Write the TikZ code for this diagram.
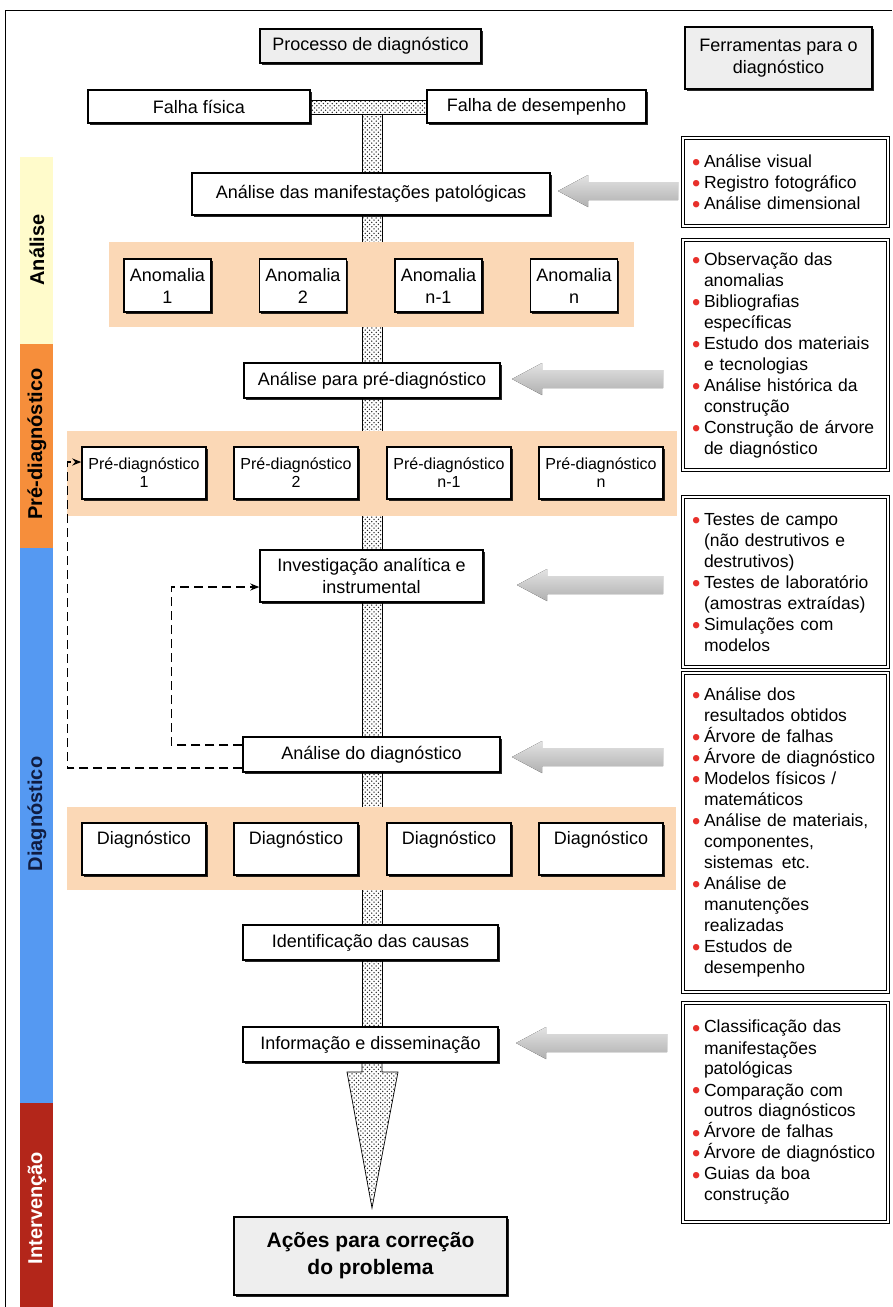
\documentclass[tikz,border=0pt]{standalone}
\usepackage{fontspec}
\setmainfont{Liberation Sans}
\usetikzlibrary{patterns,shadows,calc,arrows.meta}
\definecolor{bandc}{HTML}{FBD8B6}
\definecolor{yel}{HTML}{FFFBCB}
\definecolor{ora}{HTML}{F68E3B}
\definecolor{blu}{HTML}{5599F2}
\definecolor{redb}{HTML}{B3261A}
\definecolor{bulred}{HTML}{E8302A}
\definecolor{navy}{HTML}{101C40}
\pgfdeclarepatternformonly{sdots}{\pgfpoint{-1pt}{-1pt}}{\pgfpoint{5pt}{5pt}}{\pgfpoint{4.4pt}{4.4pt}}{%
  \pgfpathcircle{\pgfpoint{0pt}{0pt}}{0.75pt}%
  \pgfpathcircle{\pgfpoint{2.2pt}{2.2pt}}{0.75pt}%
  \pgfusepath{fill}}
\newcommand\bul{\makebox[12pt][l]{\smash{\textcolor{bulred}{\raisebox{-3pt}{\scalebox{1.35}{\textbullet}}}}}}
\newcommand\ind{\hspace*{12pt}}
\newcommand\garrow[3]{\fill[top color=gray!22,bottom color=gray!62] (#1,#2) -- ++(30,-16) -- ++(0,7) -- (#3,#2-9) -- (#3,#2+9) -- (#1+30,#2+9) -- ++(0,7) -- cycle;}
\begin{document}
\begin{tikzpicture}[x=1pt,y=-1pt,
 pbox/.style={draw=black, line width=1.4pt, fill=white, inner sep=0pt, align=center,
   font=\fontsize{18}{22}\selectfont,
   drop shadow={shadow xshift=1.5pt, shadow yshift=-1.5pt, fill=black, opacity=.85}},
 gbox/.style={pbox, fill=gray!13},
 prebox/.style={pbox, font=\fontsize{16}{18}\selectfont, minimum width=124pt, minimum height=52pt},
 anbox/.style={pbox, minimum width=87pt, minimum height=53pt},
 tbox/.style={draw=black, double=white, double distance=2pt, line width=1pt, fill=white,
   text width=187pt, inner xsep=9pt, inner ysep=0pt, align=left,
   font=\fontsize{17.5}{21}\selectfont},
 bar/.style={draw=black, line width=.7pt, preaction={fill=white}, pattern=sdots, pattern color=black!85},
 dline/.style={dash pattern=on 9pt off 5pt, line width=1.6pt, -{Stealth[length=9pt,width=7pt]}},
 side/.style={rotate=90, font=\bfseries\fontsize{20}{20}\selectfont},
]
\useasboundingbox (0,0) rectangle (892,1307);
% frame
\draw[line width=1pt] (5,1307) -- (5,10) -- (892,10);
% sidebar
\fill[yel] (20,157) rectangle (53,344);
\fill[ora] (20,344) rectangle (53,548);
\fill[blu] (20,548) rectangle (53,1103);
\fill[redb] (20,1103) rectangle (53,1307);
\node[side] (s1) at (37,250) {Análise};
\node[side] (s2) at (37,444) {Pré-diagnóstico};
\node[side, text=navy] (s3) at (37,814) {Diagnóstico};
\node[side, text=white] (s4) at (37,1208) {Intervenção};
% dotted bars
\path[bar] (362,114) rectangle (382,1062);
\path[bar] (310,100) rectangle (427,114);
\path[bar] (362,1062) -- (362,1072) -- (347,1072) -- (372,1208) -- (398,1072) -- (382,1072) -- (382,1062) -- cycle;
% bands
\fill[bandc] (109,242) rectangle (634,327);
\fill[bandc] (67,431) rectangle (677,516);
\fill[bandc] (67,807) rectangle (676,890);
% top boxes
\node[gbox, minimum width=221pt, minimum height=34pt] (proc) at (370.5,46) {Processo de diagnóstico};
\node[gbox, minimum width=187pt, minimum height=62pt] (ferr) at (778.5,58) {Ferramentas para o\\diagnóstico};
\node[pbox, minimum width=222pt, minimum height=33pt] (fis) at (199,106.5) {Falha física};
\node[pbox, minimum width=219pt, minimum height=33pt] (des) at (536.5,106.5) {Falha de desempenho};
% flow
\node[pbox, minimum width=358pt, minimum height=42pt] (ams) at (371,194) {Análise das manifestações patológicas};
\node[anbox] (an1) at (167.5,285.5) {Anomalia\\1};
\node[anbox] (an2) at (303,285.5) {Anomalia\\2};
\node[anbox] (an3) at (438.5,285.5) {Anomalia\\n-1};
\node[anbox] (an4) at (574,285.5) {Anomalia\\n};
\node[pbox, minimum width=256pt, minimum height=35pt] (app) at (372,380.5) {Análise para pré-diagnóstico};
\node[prebox] (pre1) at (144,473) {Pré-diagnóstico\\1};
\node[prebox] (pre2) at (296,473) {Pré-diagnóstico\\2};
\node[prebox] (pre3) at (449,473) {Pré-diagnóstico\\n-1};
\node[prebox] (pre4) at (601,473) {Pré-diagnóstico\\n};
\node[pbox, minimum width=223pt, minimum height=52pt] (inv) at (371.5,576) {Investigação analítica e\\instrumental};
\node[pbox, minimum width=257pt, minimum height=35pt] (ad) at (371.5,754.5) {Análise do diagnóstico};
\node[prebox, font=\fontsize{18}{22}\selectfont] (dg1) at (144,849) {Diagnóstico\\~};
\node[prebox, font=\fontsize{18}{22}\selectfont] (dg2) at (296,849) {Diagnóstico\\~};
\node[prebox, font=\fontsize{18}{22}\selectfont] (dg3) at (449,849) {Diagnóstico\\~};
\node[prebox, font=\fontsize{18}{22}\selectfont] (dg4) at (601,849) {Diagnóstico\\~};
\node[pbox, minimum width=255pt, minimum height=35pt] (idc) at (370.5,942.5) {Identificação das causas};
\node[pbox, minimum width=255pt, minimum height=35pt] (info) at (370.5,1044.5) {Informação e disseminação};
\node[gbox, minimum width=273pt, minimum height=78pt, font=\bfseries\fontsize{21}{27}\selectfont] (acoes) at (370.5,1256) {Ações para correção\\do problema};
% dashed feedback
\draw[dline] ([yshift=9.5pt]ad.west) -- ++(-71,0) |- ([yshift=-11pt]inv.west);
\draw[dline] ([yshift=-13.5pt]ad.west) -- ++(-175,0) |- ([yshift=11pt]pre1.west);
% gray arrows
\garrow{558}{191}{678}
\garrow{512}{379}{663}
\garrow{517}{585}{663}
\garrow{512}{757}{663}
\garrow{516}{1043}{667}
% tool boxes
\node[tbox, minimum height=88pt] (t1) at (785.5,182) {\bul Análise visual\\\bul Registro fotográfico\\\bul Análise dimensional};
\node[tbox, minimum height=230pt] (t2) at (785.5,355) {\bul Observação das\\\ind anomalias\\\bul Bibliografias\\\ind específicas\\\bul Estudo dos materiais\\\ind e tecnologias\\\bul Análise histórica da\\\ind construção\\\bul Construção de árvore\\\ind de diagnóstico};
\node[tbox, minimum height=170pt] (t3) at (785.5,582) {\bul Testes de campo\\\ind (não destrutivos e\\\ind destrutivos)\\\bul Testes de laboratório\\\ind (amostras extraídas)\\\bul Simulações com\\\ind modelos};
\node[tbox, minimum height=319pt] (t4) at (785.5,832.5) {\bul Análise dos\\\ind resultados obtidos\\\bul Árvore de falhas\\\bul Árvore de diagnóstico\\\bul Modelos físicos /\\\ind matemáticos\\\bul Análise de materiais,\\\ind componentes,\\\ind sistemas\enspace etc.\\\bul Análise de\\\ind manutenções\\\ind realizadas\\\bul Estudos de\\\ind desempenho};
\node[tbox, minimum height=219pt] (t5) at (785.5,1112.5) {\bul Classificação das\\\ind manifestações\\\ind patológicas\\\bul Comparação com\\\ind outros diagnósticos\\\bul Árvore de falhas\\\bul Árvore de diagnóstico\\\bul Guias da boa\\\ind construção};
\end{tikzpicture}
\end{document}
